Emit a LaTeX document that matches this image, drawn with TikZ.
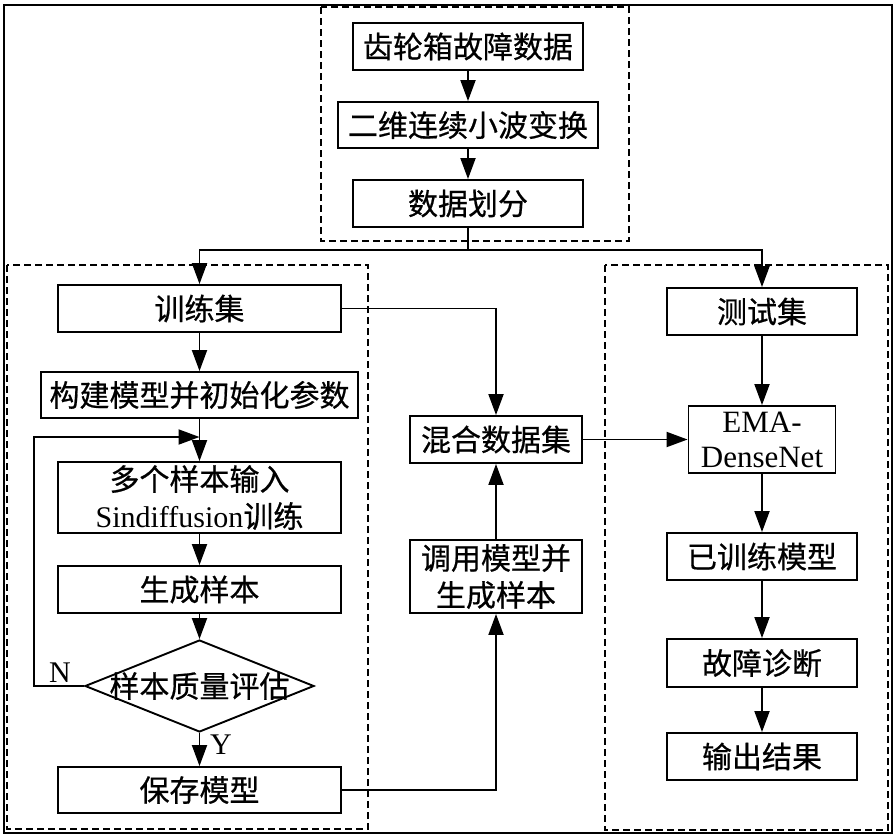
\documentclass[tikz,border=0pt]{standalone}
\usepackage{fontspec}
\setmainfont{Liberation Serif}
\newfontfamily\cjk[FakeBold=0.6]{Noto Sans CJK SC}
\usetikzlibrary{shapes.geometric,arrows.meta}

\begin{document}
\begin{tikzpicture}[x=1pt,y=-1pt]

\tikzstyle{box}=[draw, line width=1.9pt, inner sep=0pt, align=center, font=\cjk\fontsize{30}{37}\selectfont]
\tikzstyle{decision}=[draw, diamond, line width=1.9pt, inner sep=0pt, minimum width=229pt, minimum height=92pt, font=\cjk\fontsize{30}{37}\selectfont]
\tikzstyle{group}=[draw, line width=1.8pt, dash pattern=on 7pt off 4pt]
\tikzstyle{arrow}=[-{Triangle[length=21pt,width=15pt]}, line width=1.9pt]
\tikzstyle{mark_label}=[font=\fontsize{30}{36}\selectfont, inner sep=0pt]

\useasboundingbox (0,0) rectangle (896,838);
\draw[line width=2.4pt] (4,5) rectangle (892,833);

\draw[group] (321,7) rectangle (629,241);
\draw[group] (7,265) rectangle (368,829);
\draw[group] (605,265) rectangle (888,830);

\node [box, minimum width=230pt, minimum height=47pt] (data_raw) at (468,46.5) {齿轮箱故障数据};
\node [box, minimum width=260pt, minimum height=46pt] (data_cwt) at (468,125) {二维连续小波变换};
\node [box, minimum width=230pt, minimum height=47pt] (data_split) at (468,203.5) {数据划分};

\node [box, minimum width=283pt, minimum height=47pt] (train_set) at (199.5,308.5) {训练集};
\node [box, minimum width=317pt, minimum height=46pt] (build_model) at (199.5,395) {构建模型并初始化参数};
\node [box, minimum width=283pt, minimum height=71pt] (multi_input) at (199.5,497.5) {多个样本输入\\{\rmfamily Sindiffusion}训练};
\node [box, minimum width=283pt, minimum height=47pt] (gen_sample) at (199.5,589.5) {生成样本};
\node [decision] (check_quality) at (199.5,686) {\makebox[0pt]{样本质量评估}};
\node [box, minimum width=283pt, minimum height=46pt] (save_model) at (199.5,790) {保存模型};

\node [box, minimum width=172pt, minimum height=47pt] (mix_set) at (496,439.5) {混合数据集};
\node [box, minimum width=172pt, minimum height=73pt] (call_model) at (496,576.5) {调用模型并\\生成样本};

\node [box, minimum width=190pt, minimum height=47pt] (test_set) at (762,311.5) {测试集};
\node [box, minimum width=147pt, minimum height=67pt, font=\rmfamily\fontsize{31}{35}\selectfont] (ema_net) at (762,439.5) {EMA-\\DenseNet};
\node [box, minimum width=190pt, minimum height=47pt] (trained_model) at (762,556.5) {已训练模型};
\node [box, minimum width=190pt, minimum height=48pt] (fault_diag) at (762,663) {故障诊断};
\node [box, minimum width=190pt, minimum height=47pt] (out_result) at (762,756.5) {输出结果};

\node [mark_label] (label_n) at (60,673) {N};
\node [mark_label] (label_y) at (221,745) {Y};

\coordinate (fork) at (468,250);
\coordinate (loop_back) at (34,437);

\draw[arrow] (data_raw) -- (data_cwt);
\draw[arrow] (data_cwt) -- (data_split);
\draw[arrow] (data_split.south) -- (fork) -| (train_set.north);
\draw[arrow] (fork) -| (test_set.north);

\draw[arrow] (train_set) -- (build_model);
\draw[arrow] (build_model) -- (multi_input);
\draw[arrow] (multi_input) -- (gen_sample);
\draw[arrow] (gen_sample) -- (check_quality);
\draw[arrow] (check_quality) -- (save_model);
\draw[arrow] (check_quality.west) -| (loop_back) -- (loop_back -| multi_input.north);

\draw[arrow] (train_set.east) -| (mix_set.north);
\draw[arrow] (save_model.east) -| (call_model.south);
\draw[arrow] (call_model) -- (mix_set);
\draw[arrow] (mix_set) -- (ema_net);

\draw[arrow] (test_set) -- (ema_net);
\draw[arrow] (ema_net) -- (trained_model);
\draw[arrow] (trained_model) -- (fault_diag);
\draw[arrow] (fault_diag) -- (out_result);

\end{tikzpicture}
\end{document}
